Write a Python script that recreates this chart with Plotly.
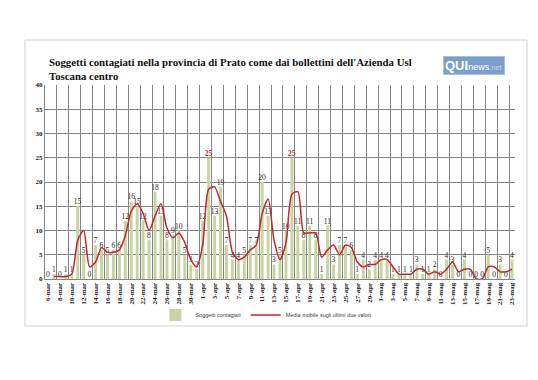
import plotly.graph_objects as go

# ---- data -------------------------------------------------------------
month_days = [("mar", list(range(6, 32))), ("apr", list(range(1, 31))), ("mag", list(range(1, 24)))]
categories = [f"{d}-{m}" for m, days in month_days for d in days]

contagiati = [
    # marzo 6..31
    0, 1, 0, 1, 1, 15, 5, 0, 7, 6, 5, 6, 6, 12, 16, 15, 12, 8, 18, 13, 8, 9, 10, 5, 3, 2,
    # aprile 1..30
    12, 25, 13, 19, 7, 4, 4, 5, 7, 7, 20, 13, 3, 5, 10, 25, 11, 8, 11, 8, 1, 11, 3, 7, 7, 6, 1, 4, 2, 4,
    # maggio 1..23
    4, 4, 1, 1, 1, 1, 3, 1, 1, 2, 0, 4, 3, 0, 4, 0, 0, 0, 5, 0, 3, 0, 4,
]

media_mobile = [
    None, 0.5, 0.5, 0.5, 1, 8, 10, 2.5, 3.5, 6.5, 5.5, 5.5, 6, 9, 14, 15.5, 13.5, 10, 13, 15.5, 10.5, 8.5, 9.5, 7.5, 4, 2.5,
    7, 18.5, 19, 16, 13, 5.5, 4, 4.5, 6, 7, 13.5, 16.5, 8, 4, 7.5, 17.5, 18, 9.5, 9.5, 9.5, 4.5, 6, 7, 5, 7, 6.5, 3.5, 2.5, 3, 3,
    4, 4, 2.5, 1, 1, 1, 2, 2, 1, 1.5, 1, 2, 3.5, 1.5, 2, 2, 0, 0, 2.5, 2.5, 1.5, 1.5, 2,
]

y_ticks = [0, 5, 10, 15, 20, 25, 30, 35, 40]
title_line1 = "Soggetti contagiati nella provincia di Prato come dai bollettini dell'Azienda Usl"
title_line2 = "Toscana centro"

# ---- figure -----------------------------------------------------------
idx = list(range(len(categories)))
max_v = max(contagiati)
label_colors = ["#c0282d" if v == max_v else "#2a2a2a" for v in contagiati]
label_text = [f"<b>{v}</b>" if v == max_v else str(v) for v in contagiati]

SERIF = "Liberation Serif"
GRID = "#858585"

fig = go.Figure()
fig.add_trace(go.Bar(
    x=idx, y=contagiati, name="Soggetti contagiati",
    marker=dict(color="#c8d5a2", line=dict(width=0)),
    width=0.5,
    text=label_text, textposition="outside", constraintext="none", cliponaxis=False,
    textfont=dict(family=SERIF, size=7.5, color=label_colors),
    outsidetextfont=dict(family=SERIF, size=7.5, color=label_colors),
))
fig.add_trace(go.Scatter(
    x=idx, y=media_mobile, name="Media mobile sugli ultimi due valori",
    mode="lines", line=dict(color="#c0282d", width=1.5, shape="spline", smoothing=0.7),
))
# invisible trace holding the secondary x-axis (category-boundary gridlines)
fig.add_trace(go.Scatter(x=[idx[0], idx[-1]], y=[0, 0], xaxis="x2", mode="none",
                         showlegend=False, hoverinfo="skip"))

fig.update_layout(
    width=538, height=380,
    margin=dict(l=37, r=31, t=77, b=109),
    paper_bgcolor="white", plot_bgcolor="white",
    showlegend=True,
    xaxis=dict(
        range=[-0.5, len(idx) - 0.5],
        tickmode="array", tickvals=idx[::2], ticktext=categories[::2],
        tickangle=-90, tickfont=dict(family=SERIF, size=7, color="#222", weight="bold"),
        showgrid=False, zeroline=False, showline=True, linecolor=GRID, linewidth=1,
        ticks="", ticklen=0, automargin=False,
    ),
    xaxis2=dict(
        overlaying="x", range=[-0.5, len(idx) - 0.5],
        tickmode="linear", tick0=-0.5, dtick=2,
        showgrid=True, gridcolor=GRID, gridwidth=1,
        showticklabels=False, zeroline=False, showline=False, side="bottom",
    ),
    yaxis=dict(
        range=[0, 40], tickmode="array", tickvals=y_ticks,
        tickfont=dict(family=SERIF, size=7, color="#222", weight="bold"),
        showgrid=True, gridcolor=GRID, gridwidth=1,
        zeroline=False, showline=True, linecolor=GRID, linewidth=1,
        ticks="", ticklen=0, automargin=False,
    ),
    legend=dict(
        orientation="h", x=0.47, xanchor="center", y=-0.186, yanchor="middle",
        font=dict(family="Liberation Sans", size=5.5, color="#404040"),
        bgcolor="rgba(0,0,0,0)", itemwidth=30, traceorder="normal",
    ),
)

# title (two lines, placed separately for tight line spacing)
for txt, yy in [(title_line1, 1.1186), (title_line2, 1.0464)]:
    fig.add_annotation(
        xref="paper", yref="paper", x=0.004, y=yy, xanchor="left", yanchor="middle",
        text=f"<b>{txt}</b>", showarrow=False, align="left",
        font=dict(family=SERIF, size=10.8, color="#111"),
    )
# logo
fig.add_annotation(
    xref="paper", yref="paper", x=0.912, y=1.103, xanchor="center", yanchor="middle",
    text="<b><span style='font-size:13px'>QUI</span></b><span style='font-size:9px'>news</span><span style='font-size:7.5px;color:#c5d6ea'>.net</span>",
    showarrow=False, bgcolor="#7c9fc9", bordercolor="#a9c0dc", borderwidth=1, borderpad=1,
    font=dict(family="Liberation Sans", size=9, color="white"),
)
# outer chart frame
fig.add_shape(
    type="rect", xref="paper", yref="paper",
    x0=-0.0426, x1=1.0255, y0=-0.242, y1=1.232,
    line=dict(color="#d0d0d0", width=1), fillcolor="rgba(0,0,0,0)", layer="below",
)

fig.write_html("out.html")
